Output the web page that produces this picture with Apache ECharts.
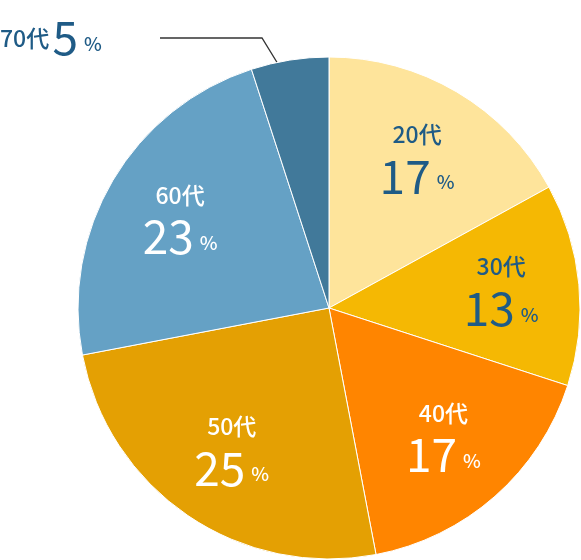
<!DOCTYPE html>
<html><head><meta charset="utf-8">
<script src="https://cdn.jsdelivr.net/npm/echarts@6/dist/echarts.min.js"></script>
<style>html,body{margin:0;background:#fff}#graph{width:581px;height:560px}</style>
</head><body><div id="graph"></div>
<script>
var ages = ['20代', '30代', '40代', '50代', '60代', '70代'];
var shares = [17, 13, 17, 25, 23, 5];
var colors = ['#FEE49B', '#F5B803', '#FF8500', '#E4A003', '#65A1C5', '#41799A'];
var textColors = ['#1F5B86', '#1F5B86', '#FFFFFF', '#FFFFFF', '#FFFFFF', '#1F5B86'];

var chart = echarts.init(document.getElementById('graph'));
var font = '"Noto Sans CJK JP", "Noto Sans", sans-serif';

function rich(c) {
    return {
        a: {color: c, fontSize: 23, fontWeight: 500, fontFamily: font, lineHeight: 34},
        n: {color: c, fontSize: 46, fontFamily: font, lineHeight: 50},
        p: {color: c, fontSize: 19, fontWeight: 500, fontFamily: font, padding: [12, 0, 0, 6]}
    };
}

chart.setOption({
    animation: false,
    series: [
        {
            type: 'pie', center: [329, 308], radius: 251, startAngle: 90, clockwise: true,
            silent: true, label: {show: false},
            itemStyle: {borderColor: '#fff', borderWidth: 1},
            data: ages.map(function (a, i) {
                return {name: a, value: shares[i], itemStyle: {color: colors[i]}};
            })
        },
        {
            type: 'pie', center: [329, 308], radius: [90, 250], startAngle: 90, clockwise: true,
            silent: true,
            itemStyle: {color: 'rgba(0,0,0,0)'},
            labelLine: {show: false},
            data: ages.map(function (a, i) {
                var last = i === ages.length - 1;
                return {
                    name: a, value: shares[i],
                    label: last ? {show: false} : {
                        show: true, position: 'inside',
                        formatter: '{a|' + a + '}\n{n|' + shares[i] + '}{p|%}',
                        rich: rich(textColors[i])
                    }
                };
            })
        },
        {
            type: 'pie', center: [329, 308], radius: [0, 220], startAngle: 90, clockwise: true,
            silent: true,
            itemStyle: {color: 'rgba(0,0,0,0)'},
            label: {show: false},
            labelLine: {show: false},
            data: ages.map(function (a, i) {
                var last = i === ages.length - 1;
                return {
                    name: a, value: shares[i],
                    label: last ? {
                        show: true, position: 'outside',
                        formatter: '{a|' + a + '} {n|' + shares[i] + '}{p|%}',
                        rich: rich(textColors[i])
                    } : {show: false},
                    labelLine: last ? {show: true, lineStyle: {color: '#333', width: 1.3}} : {show: false}
                };
            })
        }
    ]
});
chart.setOption({
    series: [{}, {}, {
        labelLayout: function (p) {
            if (p.dataIndex !== ages.length - 1) return {};
            return {x: 0, y: 38, align: 'left', verticalAlign: 'middle',
                labelLinePoints: [[297, 95], [262, 38], [160, 38]]};
        }
    }]
});
</script>
</body></html>
